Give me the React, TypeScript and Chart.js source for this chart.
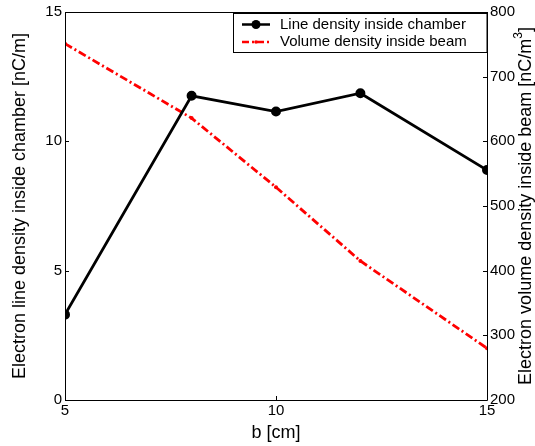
import React, { useEffect, useRef } from "react";
import { Chart, registerables } from "chart.js";

Chart.register(...registerables);

const xValues = [5, 8, 10, 12, 15];
const lineDensity = [3.3, 11.76, 11.15, 11.86, 8.89];
const volumeDensity = [751, 636, 529, 415, 280];
const xTicks = [5, 10, 15];
const leftTicks = [0, 5, 10, 15];
const rightTicks = [200, 300, 400, 500, 600, 700, 800];
const seriesNames = ["Line density inside chamber", "Volume density inside beam"];
const rightTitleMain = "Electron volume density inside beam [nC/m";
const rightTitleSup = "3";
const rightTitleEnd = "]";

const FONT = "'Liberation Sans', Arial, sans-serif";

const framePlugin = {
  id: "frame",
  afterDraw(chart: any) {
    const ctx = chart.ctx;
    const { left, right, top, bottom } = chart.chartArea;
    const xs = chart.scales.x;
    const ys = chart.scales.y;
    const y1 = chart.scales.y1;
    ctx.save();
    ctx.strokeStyle = "#000";
    ctx.lineWidth = 1;
    ctx.beginPath();
    ctx.rect(Math.round(left) + 0.5, Math.round(top) + 0.5, Math.round(right - left), Math.round(bottom - top));
    ctx.stroke();
    const tl = 4;
    ctx.beginPath();
    xTicks.forEach((v) => {
      const px = Math.round(xs.getPixelForValue(v)) + 0.5;
      ctx.moveTo(px, bottom);
      ctx.lineTo(px, bottom - tl);
      ctx.moveTo(px, top);
      ctx.lineTo(px, top + tl);
    });
    leftTicks.forEach((v) => {
      const py = Math.round(ys.getPixelForValue(v)) + 0.5;
      ctx.moveTo(left, py);
      ctx.lineTo(left + tl, py);
    });
    rightTicks.forEach((v) => {
      const py = Math.round(y1.getPixelForValue(v)) + 0.5;
      ctx.moveTo(right, py);
      ctx.lineTo(right - tl, py);
    });
    ctx.stroke();

    // right axis title, reading bottom to top
    ctx.save();
    const cy = (top + bottom) / 2;
    ctx.translate(526, cy);
    ctx.rotate(-Math.PI / 2);
    ctx.fillStyle = "#000";
    ctx.textBaseline = "middle";
    ctx.textAlign = "left";
    ctx.font = `18px ${FONT}`;
    const w1 = ctx.measureText(rightTitleMain).width;
    const w3 = ctx.measureText(rightTitleEnd).width;
    ctx.font = `12px ${FONT}`;
    const w2 = ctx.measureText(rightTitleSup).width;
    const total = w1 + w2 + w3;
    let xpos = -total / 2;
    ctx.font = `18px ${FONT}`;
    ctx.fillText(rightTitleMain, xpos, 0);
    xpos += w1;
    ctx.font = `12px ${FONT}`;
    ctx.fillText(rightTitleSup, xpos, -7);
    xpos += w2;
    ctx.font = `18px ${FONT}`;
    ctx.fillText(rightTitleEnd, xpos, 0);
    ctx.restore();

    // legend
    const bx = 233.5, by = 13.5, bw = right - 233.5, bh = 39;
    ctx.fillStyle = "#fff";
    ctx.fillRect(bx, by, bw, bh);
    ctx.strokeStyle = "#000";
    ctx.lineWidth = 1;
    ctx.strokeRect(bx, by, bw, bh);
    const rows = [24.5, 42];
    ctx.font = `15px ${FONT}`;
    ctx.textBaseline = "middle";
    ctx.textAlign = "left";
    ctx.strokeStyle = "#000";
    ctx.lineWidth = 2.5;
    ctx.setLineDash([]);
    ctx.beginPath();
    ctx.moveTo(242, rows[0]);
    ctx.lineTo(270, rows[0]);
    ctx.stroke();
    ctx.fillStyle = "#000";
    ctx.beginPath();
    ctx.arc(256, rows[0], 4.5, 0, Math.PI * 2);
    ctx.fill();
    ctx.fillText(chart.data.datasets[0].label, 280, rows[0]);
    ctx.strokeStyle = "#ff0000";
    ctx.lineWidth = 2.5;
    ctx.setLineDash([7, 3, 2, 3]);
    ctx.beginPath();
    ctx.moveTo(242, rows[1]);
    ctx.lineTo(270, rows[1]);
    ctx.stroke();
    ctx.setLineDash([]);
    ctx.fillStyle = "#ff0000";
    ctx.beginPath();
    ctx.arc(256, rows[1], 1.8, 0, Math.PI * 2);
    ctx.fill();
    ctx.fillStyle = "#000";
    ctx.fillText(chart.data.datasets[1].label, 280, rows[1]);
    ctx.restore();
  },
};

export default function App() {
  const ref = useRef<HTMLCanvasElement | null>(null);
  useEffect(() => {
    document.body.style.margin = "0";
    const canvas = ref.current!;
    const tickFont = { family: FONT, size: 15 };
    const titleFont = { family: FONT, size: 18 };
    const chart = new Chart(canvas, {
      type: "line",
      data: {
        datasets: [
          {
            label: seriesNames[0],
            data: xValues.map((x, i) => ({ x, y: lineDensity[i] })),
            borderColor: "#000",
            backgroundColor: "#000",
            borderWidth: 2.8,
            pointRadius: 4,
            pointBorderWidth: 2,
            pointBorderColor: "#000",
            pointBackgroundColor: "#000",
            yAxisID: "y",
            xAxisID: "x",
          },
          {
            label: seriesNames[1],
            data: xValues.map((x, i) => ({ x, y: volumeDensity[i] })),
            borderColor: "#ff0000",
            backgroundColor: "#ff0000",
            borderWidth: 2.8,
            borderDash: [8, 3, 2, 3],
            pointRadius: 2,
            pointBorderWidth: 0,
            pointBackgroundColor: "#ff0000",
            yAxisID: "y1",
            xAxisID: "x",
          },
        ],
      },
      options: {
        animation: false,
        responsive: false,
        maintainAspectRatio: false,
        layout: { padding: { top: 9, left: 0, right: 0, bottom: 0 } },
        plugins: { legend: { display: false }, tooltip: { enabled: false } },
        scales: {
          x: {
            type: "linear",
            position: "bottom",
            min: 5,
            max: 15,
            afterBuildTicks: (s: any) => {
              s.ticks = xTicks.map((v) => ({ value: v }));
            },
            afterFit: (s: any) => {
              s.height = 46;
            },
            ticks: { font: tickFont, color: "#000", padding: 2, maxRotation: 0 },
            grid: { display: false, drawTicks: false },
            border: { display: false },
            title: { display: true, text: "b [cm]", font: titleFont, color: "#000", padding: { top: 0, bottom: 2 } },
          },
          y: {
            type: "linear",
            position: "left",
            min: 0,
            max: 15,
            afterBuildTicks: (s: any) => {
              s.ticks = leftTicks.map((v) => ({ value: v }));
            },
            afterFit: (s: any) => {
              s.width = 65;
            },
            ticks: { font: tickFont, color: "#000", padding: 3 },
            grid: { display: false, drawTicks: false },
            border: { display: false },
            title: {
              display: true,
              text: "Electron line density inside chamber [nC/m]",
              font: titleFont,
              color: "#000",
              padding: { top: 9, bottom: 4 },
            },
          },
          y1: {
            type: "linear",
            position: "right",
            min: 200,
            max: 800,
            afterBuildTicks: (s: any) => {
              s.ticks = rightTicks.map((v) => ({ value: v }));
            },
            afterFit: (s: any) => {
              s.width = 48;
            },
            ticks: { font: tickFont, color: "#000", padding: 3 },
            grid: { display: false, drawTicks: false },
            border: { display: false },
            title: { display: false },
          },
        },
      },
      plugins: [framePlugin],
    } as any);
    return () => chart.destroy();
  }, []);
  return (
    <div style={{ position: "absolute", left: 0, top: 0, width: 535, height: 446 }}>
      <canvas ref={ref} width={535} height={446} style={{ width: 535, height: 446 }} />
    </div>
  );
}
